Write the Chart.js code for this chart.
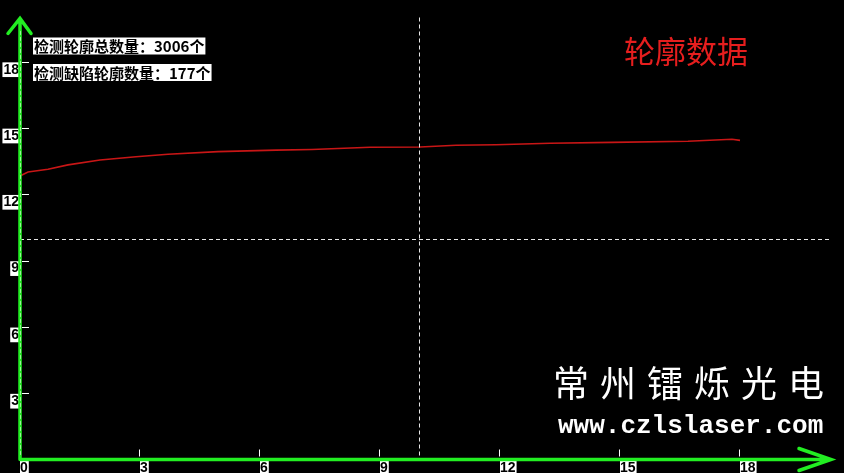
<!DOCTYPE html>
<html>
<head>
<meta charset="utf-8">
<script src="https://cdn.jsdelivr.net/npm/chart.js@4"></script>
<style>
  html, body { margin: 0; padding: 0; background: #000; }
  canvas { display: block; }
</style>
</head>
<body>
<canvas id="contourChart" width="844" height="473"></canvas>
<script>
// values
const xValues = [0, 0.2, 0.7, 1.2, 2.0, 2.9, 3.7, 4.95, 6.4, 7.3, 8.75, 10, 10.9, 11.9, 13.25, 14.8, 16.7, 17.8, 18.0];
const yValues = [12.83, 13.01, 13.13, 13.33, 13.55, 13.70, 13.81, 13.93, 14.0, 14.03, 14.13, 14.14, 14.22, 14.24, 14.31, 14.35, 14.40, 14.49, 14.44];
const xTicks = [0, 3, 6, 9, 12, 15, 18];
const yTicks = [3, 6, 9, 12, 15, 18];
const cursor = { x: 10, y: 10 };
const chartTitle = '轮廓数据';
const infoLines = ['检测轮廓总数量：3006个', '检测缺陷轮廓数量：177个'];
const brandName = '常州镭烁光电';
const brandSite = 'www.czlslaser.com';

const green = '#22ee22';
const tickFont = { family: 'Liberation Sans', size: 14, weight: 'bold', lineHeight: 1.05 };

const overlay = {
    id: 'overlay',
    beforeDraw(chart) {
        const c = chart.ctx;
        c.save();
        c.fillStyle = '#000';
        c.fillRect(0, 0, chart.width, chart.height);
        c.restore();
    },
    afterDraw(chart) {
        const c = chart.ctx;
        const a = chart.chartArea;
        const xs = chart.scales.x, ys = chart.scales.y;
        c.save();

        // cursor crosshair
        c.strokeStyle = '#e6e6e6';
        c.lineWidth = 1;
        c.setLineDash([4, 3]);
        const cx = Math.round(xs.getPixelForValue(cursor.x)) - 0.5;
        const cy = Math.round(ys.getPixelForValue(cursor.y)) + 0.5;
        c.beginPath();
        c.moveTo(cx, a.top);
        c.lineTo(cx, a.bottom);
        c.moveTo(a.left, cy);
        c.lineTo(a.right, cy);
        c.stroke();
        c.setLineDash([]);

        // small tick marks inside the axes
        c.strokeStyle = '#fff';
        yTicks.forEach(v => {
            const y = Math.round(ys.getPixelForValue(v)) + 0.5;
            c.beginPath(); c.moveTo(a.left + 2, y); c.lineTo(a.left + 9, y); c.stroke();
        });
        xTicks.slice(1).forEach(v => {
            const x = Math.round(xs.getPixelForValue(v)) - 0.5;
            c.beginPath(); c.moveTo(x, a.bottom - 10); c.lineTo(x, a.bottom - 3); c.stroke();
        });

        // green axes with arrows
        c.strokeStyle = green;
        c.lineWidth = 3.5;
        c.lineCap = 'round';
        c.beginPath();
        c.moveTo(a.left, a.bottom);
        c.lineTo(a.left, a.top + 1);
        c.moveTo(a.left - 12, a.top + 16);
        c.lineTo(a.left, a.top + 1);
        c.lineTo(a.left + 11, a.top + 16);
        c.moveTo(a.left, a.bottom);
        c.lineTo(a.right, a.bottom);
        c.moveTo(a.right - 32, a.bottom - 11);
        c.lineTo(a.right, a.bottom);
        c.lineTo(a.right - 32, a.bottom + 11);
        c.stroke();
        c.lineWidth = 1;
        c.strokeStyle = 'rgba(255,255,255,0.55)';
        c.setLineDash([3, 3]);
        c.beginPath();
        c.moveTo(a.left + 0.5, a.top + 14);
        c.lineTo(a.left + 0.5, a.bottom - 2);
        c.stroke();
        c.setLineDash([]);

        // info boxes
        c.font = 'bold 15px "Noto Sans CJK SC"';
        c.textBaseline = 'middle';
        [37.5, 64].forEach((top, i) => {
            const w = c.measureText(infoLines[i]).width;
            c.fillStyle = '#fff';
            c.fillRect(33, top, w + 2, 17);
            c.fillStyle = '#000';
            c.fillText(infoLines[i], 34, top + 9);
        });

        // title
        c.textBaseline = 'alphabetic';
        c.font = '31px "Noto Sans CJK SC"';
        c.fillStyle = '#e61e1e';
        c.fillText(chartTitle, 624, 63);

        // watermark
        c.fillStyle = '#fff';
        c.font = '36px "Noto Sans CJK SC"';
        c.letterSpacing = '11px';
        c.fillText(brandName, 553, 397);
        c.letterSpacing = '0px';
        c.font = 'bold 26px "Liberation Mono"';
        c.fillText(brandSite, 558, 433);

        c.restore();
    }
};

const ctx = document.getElementById('contourChart').getContext('2d');
new Chart(ctx, {
    type: 'line',
    data: {
        datasets: [{
            data: xValues.map((x, i) => ({ x: x, y: yValues[i] })),
            borderColor: '#c81616',
            borderWidth: 1.6,
            pointRadius: 0,
            fill: false,
            tension: 0
        }]
    },
    options: {
        responsive: false,
        animation: false,
        events: [],
        layout: { padding: { top: 17.5, right: 13, left: 0, bottom: 0 } },
        scales: {
            x: {
                type: 'linear',
                min: 0,
                max: 20.275,
                afterFit: s => { s.height = 13.5; },
                afterBuildTicks: s => { s.ticks = xTicks.map(v => ({ value: v })); },
                grid: { display: false, drawTicks: false },
                border: { display: false },
                ticks: {
                    autoSkip: false,
                    maxRotation: 0,
                    align: 'start',
                    padding: 1,
                    color: '#000',
                    font: tickFont,
                    showLabelBackdrop: true,
                    backdropColor: '#fff',
                    backdropPadding: { top: 0, bottom: 0, left: 0, right: 1 }
                }
            },
            y: {
                type: 'linear',
                min: 0,
                max: 20,
                afterFit: s => { s.width = 20; },
                afterBuildTicks: s => { s.ticks = yTicks.map(v => ({ value: v })); },
                grid: { display: false, drawTicks: false },
                border: { display: false },
                ticks: {
                    autoSkip: false,
                    padding: 1,
                    labelOffset: 8,
                    color: '#000',
                    font: tickFont,
                    showLabelBackdrop: true,
                    backdropColor: '#fff',
                    backdropPadding: { top: 0, bottom: 0, left: 1, right: 0 }
                }
            }
        },
        plugins: {
            legend: { display: false },
            tooltip: { enabled: false },
            title: { display: false }
        }
    },
    plugins: [overlay]
});
</script>
</body>
</html>
